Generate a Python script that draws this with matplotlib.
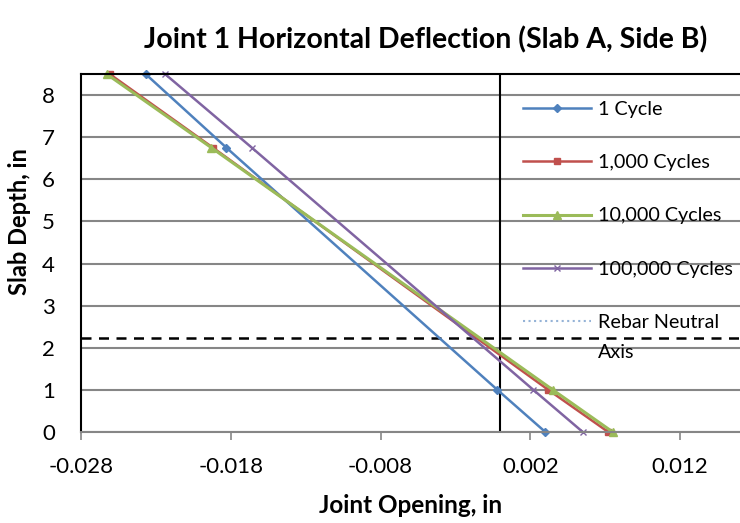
import matplotlib.pyplot as plt
from matplotlib.lines import Line2D

plt.rcParams['font.family'] = ['Lato', 'DejaVu Sans']

# --- data ---
depth = [8.5, 6.75, 1.0, 0.0]  # slab depth, in
opening_1 = [-0.0237, -0.0183, -0.0002, 0.0030]
opening_1k = [-0.0261, -0.0192, 0.0032, 0.0072]
opening_10k = [-0.0263, -0.0193, 0.0035, 0.0075]
opening_100k = [-0.0224, -0.0166, 0.0022, 0.0055]
neutral_axis = 2.23
x_ticks = [-0.028, -0.018, -0.008, 0.002, 0.012]
y_ticks = [0, 1, 2, 3, 4, 5, 6, 7, 8]

fig = plt.figure(figsize=(7.4, 5.23), dpi=100)
ax = fig.add_axes([0.1097, 0.174, 0.8903, 0.6845])

ax.set_xlim(-0.028, 0.016)
ax.set_ylim(0, 8.5)
ax.set_xticks(x_ticks)
ax.set_xticklabels([f"{v:.3f}" for v in x_ticks])
ax.set_yticks(y_ticks)

# horizontal gridlines in Excel grey
ax.grid(True, axis='y', color='#868686', linewidth=1.5)
ax.set_axisbelow(True)

# vertical reference line at zero opening and neutral axis line
ax.axvline(0, color='black', linewidth=1.5)
ax.axhline(neutral_axis, color='black', linestyle=(0, (4, 3)), linewidth=1.8)

ax.plot(opening_1, depth, color='#4F81BD', marker='D', markersize=4, linewidth=1.8, label='1 Cycle', clip_on=False)
ax.plot(opening_1k, depth, color='#C0504D', marker='s', markersize=5, linewidth=1.8, label='1,000 Cycles', clip_on=False)
ax.plot(opening_10k, depth, color='#9BBB59', marker='^', markersize=6, linewidth=2.2, label='10,000 Cycles', clip_on=False)
ax.plot(opening_100k, depth, color='#8064A2', marker='x', markersize=5, linewidth=1.8, label='100,000 Cycles', clip_on=False)

# legend entry for the neutral axis (shown dotted light blue in the original)
handles, labels = ax.get_legend_handles_labels()
handles.append(Line2D([], [], color='#95B3D7', linestyle=':', linewidth=1.5))
labels.append('Rebar Neutral')
leg = ax.legend(handles, labels, loc='upper left', bbox_to_anchor=(0.658, 0.946),
                frameon=False, fontsize=14.2, handlelength=3.45, labelspacing=1.83,
                handletextpad=0.38, borderaxespad=0)

for side in ['left', 'top']:
    ax.spines[side].set_color('black')
    ax.spines[side].set_linewidth(1.5)
ax.spines['bottom'].set_color('#868686')
ax.spines['bottom'].set_linewidth(1.5)
ax.spines['right'].set_visible(False)

ax.tick_params(axis='x', direction='out', length=6, width=1.2, color='#868686', labelsize=16, pad=12)
ax.tick_params(axis='y', length=0, labelsize=16, pad=19)

ax.set_xlabel('Joint Opening, in', fontsize=17.5, fontweight='bold', labelpad=12)
ax.set_ylabel('Slab Depth, in', fontsize=17, fontweight='bold', labelpad=6)
ax.yaxis.set_label_coords(-0.076, 0.587)
fig.text(0.575, 0.923, 'Joint 1 Horizontal Deflection (Slab A, Side B)',
         ha='center', va='center', fontsize=20.5, fontweight='bold')

# wrapped second line of the last legend label, hung below its first line
fig.canvas.draw()
bb = leg.get_texts()[-1].get_window_extent()
fig.text(bb.x0 / fig.bbox.width, (bb.y0 - 13) / fig.bbox.height, 'Axis',
         ha='left', va='top', fontsize=14.2)

fig.savefig('out.png', dpi=100)
